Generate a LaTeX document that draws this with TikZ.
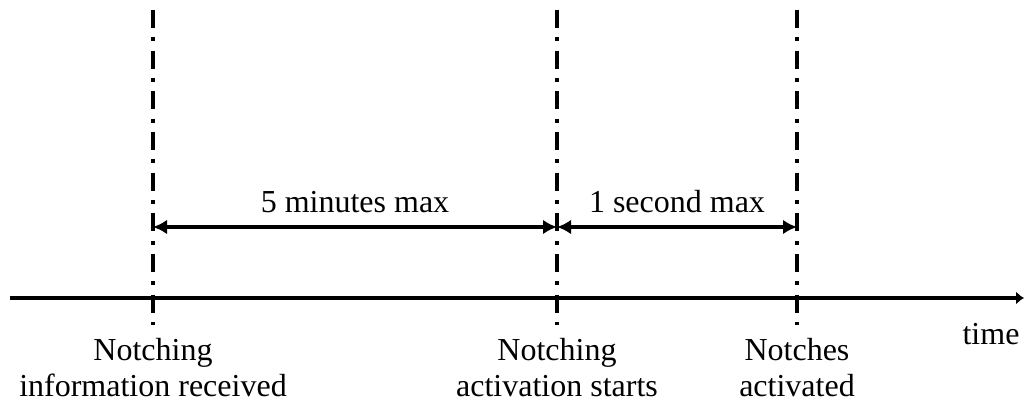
\documentclass[tikz,border=0pt]{standalone}
\usepackage{fontspec}
\setmainfont{Liberation Serif}
\usetikzlibrary{arrows.meta,positioning}

\begin{document}
\begin{tikzpicture}[
    x=0.75pt, y=-0.75pt,
    milestone/.style={line width=2.8pt, dash pattern=on 13.5pt off 7pt on 3pt off 7pt},
    span/.style={line width=2.9pt, {Latex[length=10.5pt,width=11pt]}-{Latex[length=10.5pt,width=11pt]}},
    axis/.style={line width=3.2pt, -{Latex[length=6pt,width=10pt]}},
    lbl/.style={font=\fontsize{24}{27}\selectfont, align=center, inner sep=0pt}]
\useasboundingbox (0,0) rectangle (1025,403);

% milestones
\coordinate (rcvtop) at (153,10);  \coordinate (rcvbot) at (153,325);
\coordinate (acttop) at (557,10);  \coordinate (actbot) at (557,325);
\coordinate (donetop) at (797,10); \coordinate (donebot) at (797,325);
\coordinate (rcvmid) at (153,227);
\coordinate (actmid) at (557,227);
\coordinate (donemid) at (797,227);
\coordinate (axstart) at (10,298);
\coordinate (axend) at (1024,298);

\draw[axis] (axstart) -- (axend);
\draw[milestone] (rcvtop) -- (rcvbot);
\draw[milestone] (acttop) -- (actbot);
\draw[milestone] (donetop) -- (donebot);

\draw[span] (rcvmid) -- (actmid) node[midway, lbl, above=9pt] (fivemin) {5 minutes max};
\draw[span] (actmid) -- (donemid) node[midway, lbl, above=9pt] (onesec) {1 second max};

\node[lbl, below=9.5pt of rcvbot] (rcvlbl) {Notching\\information received};
\node[lbl, below=9.5pt of actbot] (actlbl) {Notching\\activation starts};
\node[lbl, below=9.5pt of donebot] (donelbl) {Notches\\activated};
\node[lbl, anchor=base] (timelbl) at (991,344) {time};

\end{tikzpicture}
\end{document}
